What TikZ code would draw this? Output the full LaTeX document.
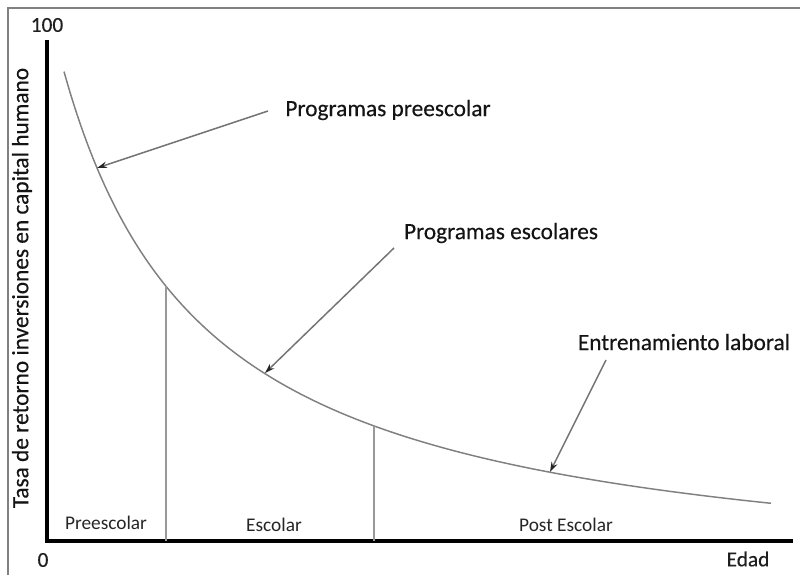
\documentclass[tikz,border=0pt]{standalone}
\usepackage{fontspec}
\setmainfont{Carlito}
\newfontfamily\semibold[FakeBold=0.35]{Carlito}
\usetikzlibrary{arrows.meta}
\begin{document}
\begin{tikzpicture}[x=0.75pt,y=-0.75pt,
  frame/.style={draw=black!50, line width=1.9pt},
  axisline/.style={draw=black, line width=3pt},
  curveline/.style={draw=black!50, line width=1.1pt},
  divider/.style={draw=black!40, line width=1.1pt},
  pointer/.style={draw=black!55, line width=1.1pt, -{Stealth[length=7.5pt,width=4.8pt,color=black!85]}},
  biglabel/.style={inner sep=0pt, text=black!92, font=\semibold\fontsize{17.5}{20}\selectfont},
  zonelabel/.style={inner sep=0pt, text=black!85, font=\fontsize{14.5}{17}\selectfont},
  ticklabel/.style={inner sep=0pt, text=black!88, font=\semibold\fontsize{16}{18}\selectfont}]
\useasboundingbox (0,0) rectangle (800,575);
\fill[white] (0,0) rectangle (800,575);
% frame
\draw[frame] (8,575) -- (8,8) -- (800,8);
% axes
\coordinate (ytop) at (47,40);
\coordinate (origin) at (47,541);
\coordinate (xend) at (793,541);
\draw[axisline] (ytop) -- (origin |- xend) -- (xend);
% curve (hyperbola-like decay)
\draw[curveline] plot[domain=64:771, samples=120, smooth]
  (\x, {592 - 756.13/(\x/100 + 0.813)});
% points on curve
\coordinate (c1) at (166,286);
\coordinate (c2) at (374,426);
\coordinate (t1) at (97,168);
\coordinate (t2) at (265,373);
\coordinate (t3) at (550,472);
% dividers
\draw[divider] (c1) -- (c1 |- origin);
\draw[divider] (c2) -- (c2 |- origin);
% zone labels
\node[zonelabel] (pre) at (106,523) {Preescolar};
\node[zonelabel] (esc) at (274,525) {Escolar};
\node[zonelabel] (post) at (566,525) {Post Escolar};
% annotations
\node[biglabel] (lab1) at (388,110) {Programas preescolar};
\node[biglabel] (lab2) at (501,233) {Programas escolares};
\node[biglabel] (lab3) at (684,342) {Entrenamiento laboral};
\coordinate (s1) at (268,111);
\coordinate (s2) at (394,248);
\coordinate (s3) at (606,360);
\draw[pointer] (s1) -- (t1);
\draw[pointer] (s2) -- (t2);
\draw[pointer] (s3) -- (t3);
% axis labels
\node[biglabel, rotate=90] (ylab) at (22,288) {Tasa de retorno inversiones en capital humano};
\node[ticklabel] (hundred) at (47,25) {100};
\node[ticklabel] (zero) at (43,560) {0};
\node[ticklabel] (edad) at (748,559) {Edad};
\end{tikzpicture}
\end{document}
